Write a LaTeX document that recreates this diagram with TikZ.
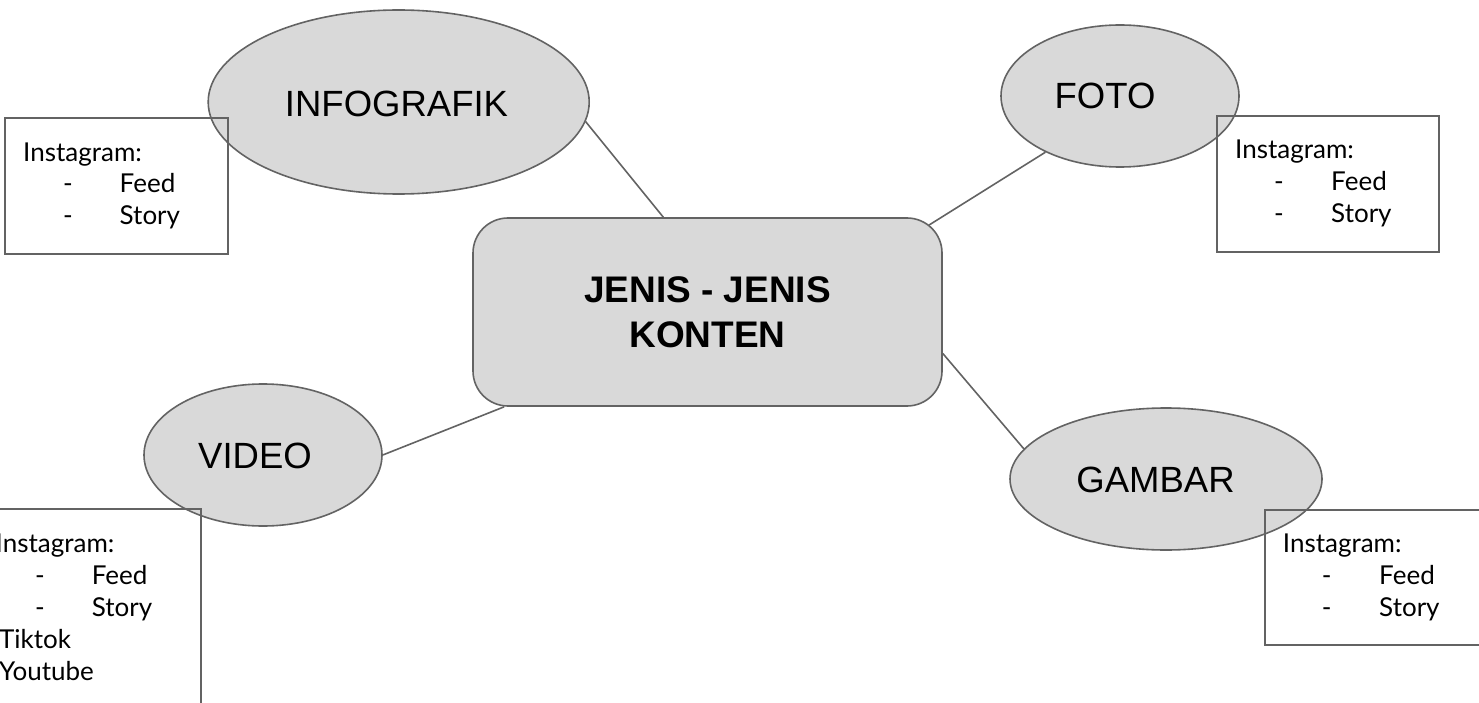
\documentclass[tikz,border=0pt]{standalone}
\usepackage{fontspec}
\setmainfont{Liberation Sans}
\newfontfamily\listfont{Lato}
\usetikzlibrary{shapes.geometric,calc}
\definecolor{edgegray}{HTML}{636363}
\definecolor{fillgray}{HTML}{D9D9D9}
\begin{document}
\begin{tikzpicture}[x=1pt,y=-1pt,
  bubble/.style={ellipse,draw=edgegray,fill=fillgray,line width=1.6pt,inner sep=0pt},
  hub/.style={rectangle,rounded corners=35pt,draw=edgegray,fill=fillgray,line width=1.6pt,inner sep=0pt,
    minimum width=469pt,minimum height=188pt,align=center,font=\bfseries\fontsize{37}{45}\selectfont},
  listbox/.style={rectangle,draw=edgegray,line width=1.6pt,inner sep=0pt,anchor=north west},
  link/.style={draw=edgegray,line width=1.6pt},
  biglabel/.style={font=\fontsize{36.5}{43}\selectfont,text=black,anchor=base,inner sep=0pt},
  item/.style={font=\listfont\fontsize{26}{30}\selectfont,anchor=base west,inner sep=0pt},
]
\useasboundingbox (0,0) rectangle (1479,703);
\clip (0,0) rectangle (1479,703);

% bubbles
\node[bubble,minimum width=381pt,minimum height=184pt] (info) at (398.7,102) {};
\node[bubble,minimum width=238pt,minimum height=142pt] (foto) at (1120,96) {};
\node[bubble,minimum width=238pt,minimum height=142pt] (video) at (263,455) {};
\node[bubble,minimum width=312pt,minimum height=142pt] (gambar) at (1166,479) {};

\node[biglabel] (infotxt) at (396.5,117) {INFOGRAFIK};
\node[biglabel] (fototxt) at (1105,109) {FOTO};
\node[biglabel] (videotxt) at (255,468) {VIDEO};
\node[biglabel] (gambartxt) at (1155.5,492.7) {GAMBAR};

% hub
\node[hub] (main) at (707.5,312) {JENIS - JENIS\\KONTEN};

% connectors
\draw[link] (info.-6.3) -- (main.115);
\draw[link] (foto.217.7) -- ($(main.north east)+(-14,8)$);
\draw[link] (main.-10.4) -- (gambar.168.7);
\draw[link] (video.east) -- (main.205);

% list boxes
\node[listbox,minimum width=223pt,minimum height=136pt] (infobox) at (4,117) {};
\node[listbox,minimum width=222pt,minimum height=136pt] (fotobox) at (1216,115) {};
\node[listbox,minimum width=223pt,minimum height=240pt] (videobox) at (-23,508) {};
\node[listbox,minimum width=222pt,minimum height=135pt] (gambarbox) at (1264,509) {};

% infografik list
\node[item] (i1) at (23,162) {Instagram:};
\node[item] (i2) at (63,193) {-};
\node[item] (i3) at (119.5,193) {Feed};
\node[item] (i4) at (63,225) {-};
\node[item] (i5) at (119.5,225) {Story};

% foto list
\node[item] (f1) at (1235,159) {Instagram:};
\node[item] (f2) at (1274,190.7) {-};
\node[item] (f3) at (1331,190.7) {Feed};
\node[item] (f4) at (1274,222.7) {-};
\node[item] (f5) at (1331,222.7) {Story};

% video list
\node[item] (v1) at (-4.5,552.7) {Instagram:};
\node[item] (v2) at (35,584) {-};
\node[item] (v3) at (91.7,584) {Feed};
\node[item] (v4) at (35,616.7) {-};
\node[item] (v5) at (91.7,616.7) {Story};
\node[item] (v6) at (-1,648) {Tiktok};
\node[item] (v7) at (-1,680) {Youtube};

% gambar list
\node[item] (g1) at (1282.7,552.7) {Instagram:};
\node[item] (g2) at (1321.7,584) {-};
\node[item] (g3) at (1379,584) {Feed};
\node[item] (g4) at (1321.7,616) {-};
\node[item] (g5) at (1379,616) {Story};
\end{tikzpicture}
\end{document}
